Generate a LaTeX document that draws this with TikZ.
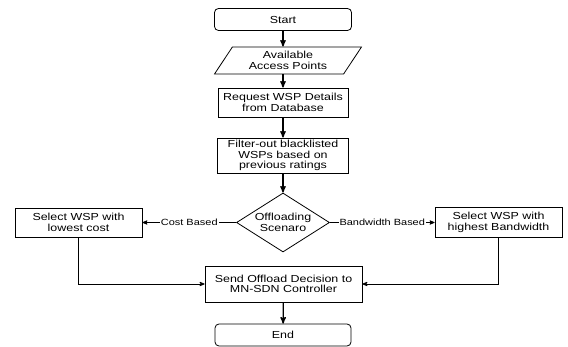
\documentclass[tikz,border=0pt]{standalone}
\usepackage{fontspec}
\setmainfont{Liberation Sans}[FakeStretch=1.22]
\usetikzlibrary{arrows,shapes.geometric}

\begin{document}
\begin{tikzpicture}[x=1pt,y=-1pt,->,>=stealth',line width=0.8pt,font=\fontsize{10.2}{10.4}\selectfont,
  box/.style={rectangle,draw,align=center,inner sep=0pt},
  term/.style={box,rounded corners=4pt,minimum width=137pt,minimum height=22pt},
  io/.style={trapezium,trapezium left angle=45,trapezium right angle=135,trapezium stretches body,draw,align=center,inner sep=0pt,minimum width=147pt,minimum height=27pt},
  choice/.style={diamond,draw,align=center,inner sep=0pt,aspect=1.58,minimum width=93pt,minimum height=59pt},
  flow/.style={line width=1.3pt},
  lbl/.style={fill=white,inner sep=1pt,font=\fontsize{9}{9}\selectfont}]
  \useasboundingbox (0,0) rectangle (568,347);
  \node[term] (start) at (283,19.5) {Start};
  \node[io] (ap) at (288,60.5) {Available\\Access Points};
  \node[box,minimum width=130pt,minimum height=29pt] (req) at (283,102.5) {Request WSP Details\\from Database};
  \node[box,minimum width=131pt,minimum height=35pt] (filter) at (283,155.5) {Filter-out blacklisted\\WSPs based on\\previous ratings};
  \node[choice] (scen) at (283,222.5) {Offloading\\Scenaro};
  \node[box,minimum width=127pt,minimum height=29pt] (cost) at (78.5,222.5) {Select WSP with\\lowest cost};
  \node[box,minimum width=127pt,minimum height=30pt] (bw) at (498.5,222.5) {Select WSP with\\highest Bandwidth};
  \node[box,minimum width=157pt,minimum height=36pt] (send) at (283.5,284) {Send Offload Decision to\\MN-SDN Controller};
  \node[term,minimum width=136pt] (stop) at (283,335) {End};

\path[flow]
  (start) edge (start |- ap.north)
  (start |- ap.south) edge (req)
  (req) edge (filter)
  (filter) edge (scen)
  (send) edge (stop)
;
\path
  (scen) edge node[lbl] {Cost Based} (cost)
  (scen) edge node[lbl] {Bandwidth Based} (bw)
;
\draw (cost) |- (send);
\draw (bw) |- (send);
\end{tikzpicture}
\end{document}
